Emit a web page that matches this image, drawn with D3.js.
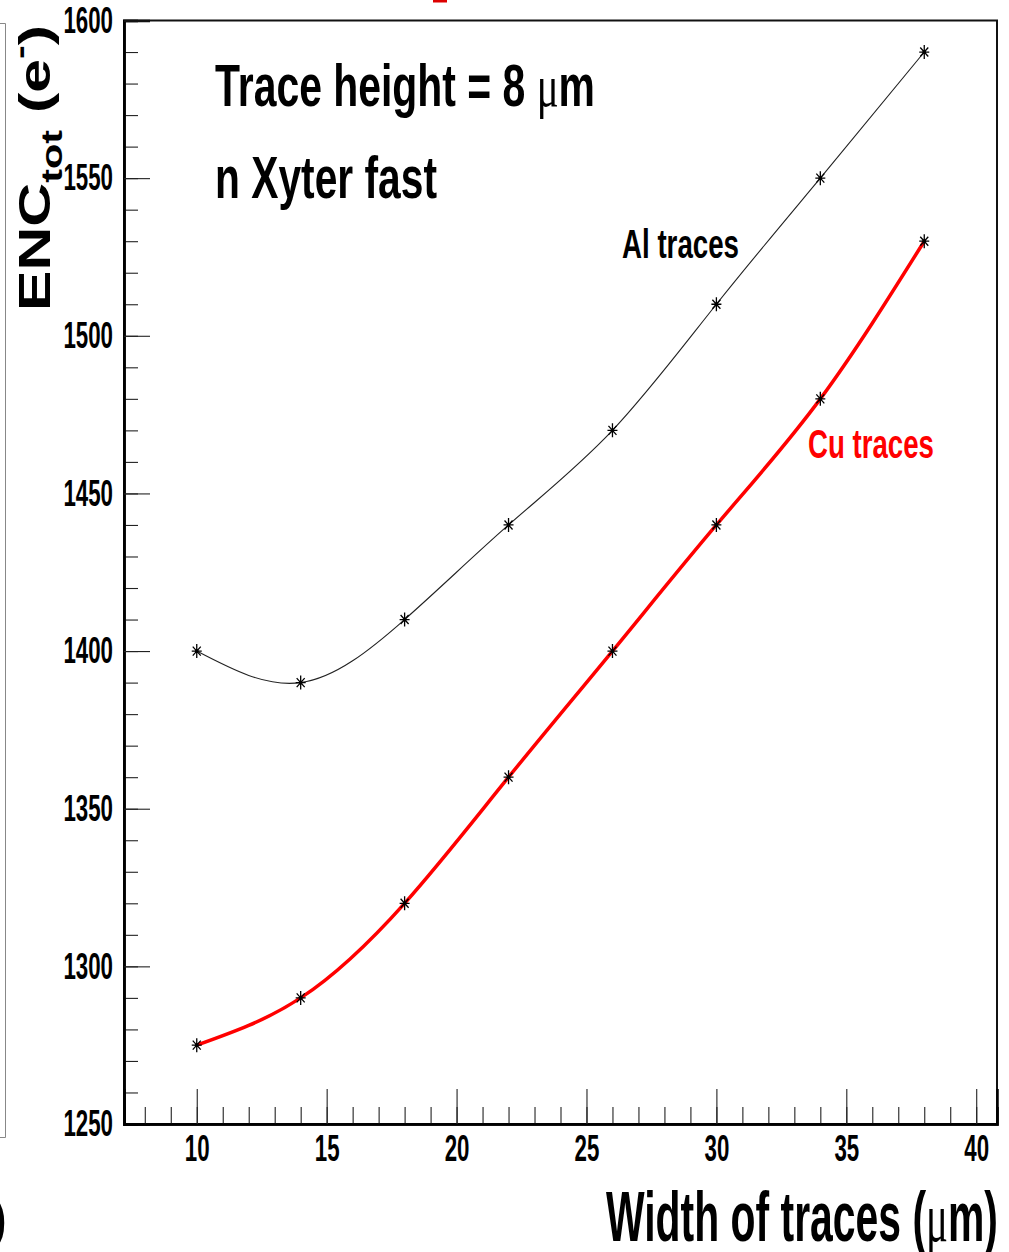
<!DOCTYPE html>
<html>
<head>
<meta charset="utf-8">
<script src="https://cdn.jsdelivr.net/npm/d3@7"></script>
<style>
  html, body { margin: 0; padding: 0; background: #fff; }
  svg { display: block; }
  .narrow { font-family: "Liberation Sans Narrow", "Liberation Sans", Arial, sans-serif; font-weight: bold; }
</style>
</head>
<body>
<svg id="chart" width="1009" height="1252"></svg>
<script>
// Trace width in micrometres
const widths = [10, 14, 18, 22, 26, 30, 34, 38];
// Total ENC (electrons) for aluminium and copper traces
const alENC = [1400, 1390, 1410, 1440, 1470, 1510, 1550, 1590];
const cuENC = [1275, 1290, 1320, 1360, 1400, 1440, 1480, 1530];
// Axis ticks
const xMajorTicks = [10, 15, 20, 25, 30, 35, 40];
const xMinorTicks = d3.range(8, 41, 1);
const yMajorTicks = [1250, 1300, 1350, 1400, 1450, 1500, 1550, 1600];
const yMinorTicks = d3.range(1250, 1601, 10);

const svg = d3.select("#chart");
const frame = { left: 124, right: 997, top: 20.5, bottom: 1124 };

const x = d3.scaleLinear().domain([7.2, 40.8]).range([frame.left, frame.right]);
const y = d3.scaleLinear().domain([1250, 1600]).range([frame.bottom, frame.top]);

// Edge of the neighbouring panel on the left
svg.append("path")
  .attr("d", "M0,23.5H5.5V1137.5H0")
  .attr("fill", "none").attr("stroke", "#888").attr("stroke-width", 1);
svg.append("text")
  .attr("x", -16).attr("y", 1240)
  .attr("font-family", "Liberation Sans Narrow").attr("font-weight", "bold")
  .attr("font-size", 70).text(")");
svg.append("rect").attr("x", 433).attr("y", 0).attr("width", 14).attr("height", 2.5).attr("fill", "#d00");

// Plot frame
svg.append("rect")
  .attr("x", frame.left).attr("y", frame.top)
  .attr("width", frame.right - frame.left).attr("height", frame.bottom - frame.top)
  .attr("fill", "none").attr("stroke", "#111").attr("stroke-width", 2);

// Y axis: minor ticks, then major ticks with labels
const yMinor = svg.append("g").attr("transform", `translate(${frame.left},0)`)
  .call(d3.axisLeft(y).tickValues(yMinorTicks).tickSize(-14).tickFormat(""));
const yMajor = svg.append("g").attr("transform", `translate(${frame.left},0)`)
  .call(d3.axisLeft(y).tickValues(yMajorTicks).tickSize(-26).tickPadding(11).tickFormat(d3.format("d")));

// X axis
const xMinor = svg.append("g").attr("transform", `translate(0,${frame.bottom})`)
  .call(d3.axisBottom(x).tickValues(xMinorTicks).tickSize(-17).tickFormat(""));
const xMajor = svg.append("g").attr("transform", `translate(0,${frame.bottom})`)
  .call(d3.axisBottom(x).tickValues(xMajorTicks).tickSize(-35).tickPadding(11).tickFormat(d3.format("d")));

[yMinor, yMajor, xMinor, xMajor].forEach(g => {
  g.select(".domain").attr("stroke", "#000").attr("stroke-width", 2.5);
  g.selectAll(".tick line").attr("stroke", "#222").attr("stroke-width", 1.1);
});
[yMajor, xMajor].forEach(g => {
  g.selectAll(".tick text")
    .attr("class", "narrow")
    .attr("font-size", 37)
    .attr("fill", "#000")
    .attr("textLength", d => String(d).length * 12.4)
    .attr("lengthAdjust", "spacingAndGlyphs");
});

// Axis titles
svg.append("text")
  .attr("class", "narrow")
  .attr("x", 998).attr("y", 1241)
  .attr("text-anchor", "end")
  .attr("font-size", 70)
  .attr("textLength", 392).attr("lengthAdjust", "spacingAndGlyphs")
  .call(t => {
    t.append("tspan").text("Width of traces (");
    t.append("tspan").attr("font-family", "Liberation Serif").attr("font-weight", "normal").text("μ");
    t.append("tspan").text("m)");
  });

const yTitle = svg.append("text")
  .attr("transform", "translate(50,311) rotate(-90)")
  .attr("font-family", "Liberation Sans, Arial, sans-serif")
  .attr("font-weight", "bold")
  .attr("font-size", 44)
  .attr("textLength", 286).attr("lengthAdjust", "spacingAndGlyphs");
yTitle.append("tspan").text("ENC");
yTitle.append("tspan").attr("font-size", 30).attr("dy", 12).text("tot");
yTitle.append("tspan").attr("dy", -12).text(" (e");
yTitle.append("tspan").attr("font-size", 30).attr("dy", -20).text("-");
yTitle.append("tspan").attr("dy", 20).text(")");

// Annotations
function label(txt, px, py, size, len, color) {
  const t = svg.append("text")
    .attr("class", "narrow")
    .attr("x", px).attr("y", py)
    .attr("font-size", size)
    .attr("fill", color)
    .attr("textLength", len).attr("lengthAdjust", "spacingAndGlyphs");
  return t.text(txt);
}
svg.append("text")
  .attr("class", "narrow")
  .attr("x", 215).attr("y", 106)
  .attr("font-size", 59)
  .attr("textLength", 380).attr("lengthAdjust", "spacingAndGlyphs")
  .call(t => {
    t.append("tspan").text("Trace height = 8 ");
    t.append("tspan").attr("font-family", "Liberation Serif").attr("font-weight", "normal").text("μ");
    t.append("tspan").text("m");
  });
label("n Xyter fast", 215, 198, 59, 222, "#000");
label("Al traces", 622, 258, 40, 117, "#000");
label("Cu traces", 808, 458, 41, 126, "#f00");

// Smooth curves through the measured points
const line = d3.line().x(d => x(d[0])).y(d => y(d[1])).curve(d3.curveNatural);
const alPts = widths.map((w, i) => [w, alENC[i]]);
const cuPts = widths.map((w, i) => [w, cuENC[i]]);

svg.append("path").datum(alPts).attr("d", line)
  .attr("fill", "none").attr("stroke", "#222").attr("stroke-width", 1.1);
svg.append("path").datum(cuPts).attr("d", line)
  .attr("fill", "none").attr("stroke", "#f00").attr("stroke-width", 3.5);

// Asterisk markers
const star = "M0,-7V7M-5,0H5M-4,-4.5L4,4.5M-4,4.5L4,-4.5";
[alPts, cuPts].forEach(pts => {
  svg.append("g").selectAll("path").data(pts).join("path")
    .attr("transform", d => `translate(${x(d[0])},${y(d[1])})`)
    .attr("d", star)
    .attr("fill", "none").attr("stroke", "#000").attr("stroke-width", 1.3);
  svg.append("g").selectAll("circle").data(pts).join("circle")
    .attr("cx", d => x(d[0])).attr("cy", d => y(d[1])).attr("r", 1.8).attr("fill", "#000");
});
</script>
</body>
</html>
